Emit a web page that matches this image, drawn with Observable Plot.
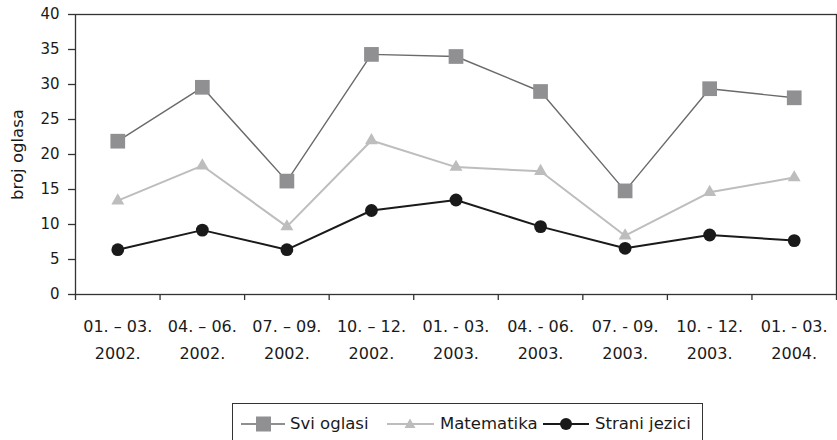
<!DOCTYPE html>
<html>
<head>
<meta charset="utf-8">
<script src="https://cdn.jsdelivr.net/npm/d3@7"></script>
<script src="https://cdn.jsdelivr.net/npm/@observablehq/plot@0.6"></script>
<style>
  body { margin: 0; background: #fff; font-family: "DejaVu Sans", sans-serif; }
  #chart { position: relative; width: 837px; height: 440px; }
  #legend { position: absolute; left: 232px; top: 403px; width: 471px; height: 40px;
    border: 1px solid #333; box-sizing: border-box; font-size: 16.5px; color: #1a1a1a; }
  #legend svg { position: absolute; left: 0; top: 0; }
  #legend span { position: absolute; top: 10px; white-space: nowrap; }
</style>
</head>
<body>
<div id="chart"></div>
<script>
const periods = ["01. – 03.", "04. – 06.", "07. – 09.", "10. – 12.", "01. - 03.", "04. - 06.", "07. - 09.", "10. - 12.", "01. - 03."];
const years = ["2002.", "2002.", "2002.", "2002.", "2003.", "2003.", "2003.", "2003.", "2004."];
const sviOglasi = [21.9, 29.6, 16.2, 34.3, 34.0, 29.0, 14.8, 29.4, 28.1];
const matematika = [13.4, 18.4, 9.7, 22.0, 18.2, 17.6, 8.4, 14.6, 16.7];
const straniJezici = [6.4, 9.2, 6.4, 12.0, 13.5, 9.7, 6.6, 8.5, 7.7];
const yTicks = [0, 5, 10, 15, 20, 25, 30, 35, 40];
const yLabel = "broj oglasa";
const seriesNames = ["Svi oglasi", "Matematika", "Strani jezici"];

const pos = periods.map((p, i) => i + 0.5);
const rows = (vals) => vals.map((v, i) => ({x: pos[i], y: v}));
const svi = rows(sviOglasi), mat = rows(matematika), str = rows(straniJezici);
const labels = periods.map((p, i) => ({x: pos[i], p, yr: years[i]}));

const plot = Plot.plot({
  width: 837,
  height: 395,
  marginLeft: 75,
  marginRight: 1,
  marginTop: 14,
  marginBottom: 101,
  style: {fontFamily: "DejaVu Sans, sans-serif", fontSize: "15px", color: "#1a1a1a", background: "#fff"},
  x: {domain: [0, periods.length]},
  y: {domain: [0, 40]},
  marks: [
    Plot.frame({stroke: "#333", strokeWidth: 1.3}),
    Plot.axisY({ticks: yTicks, tickSize: 7, tickPadding: 9, stroke: "#333", strokeWidth: 1.3,
      label: null, fontSize: 15}),
    Plot.text([yLabel], {text: d => d, frameAnchor: "left", textAnchor: "middle", rotate: -90, dx: -58, fontSize: 16.5, fill: "#1a1a1a"}),
    Plot.axisX({ticks: d3.range(0, periods.length + 1), tickSize: 6, tickFormat: () => "", stroke: "#333", strokeWidth: 1.3, label: null}),
    Plot.text(labels, {x: "x", text: "p", frameAnchor: "bottom", dy: 37, fontSize: 16, fill: "#1a1a1a"}),
    Plot.text(labels, {x: "x", text: "yr", frameAnchor: "bottom", dy: 64, fontSize: 16, fill: "#1a1a1a"}),
    Plot.line(svi, {x: "x", y: "y", stroke: "#6a6a6a", strokeWidth: 1.4}),
    Plot.line(mat, {x: "x", y: "y", stroke: "#bdbdbd", strokeWidth: 2}),
    Plot.line(str, {x: "x", y: "y", stroke: "#1a1a1a", strokeWidth: 2}),
    Plot.dot(svi, {x: "x", y: "y", symbol: "square", r: 8.3, fill: "#909093", stroke: "none"}),
    Plot.dot(mat, {x: "x", y: "y", symbol: "triangle", r: 4.8, fill: "#bdbdbd", stroke: "none"}),
    Plot.dot(str, {x: "x", y: "y", symbol: "circle", r: 6.4, fill: "#1a1a1a", stroke: "none"})
  ]
});
const chart = document.getElementById("chart");
chart.appendChild(plot);

// Legend
const legend = document.createElement("div");
legend.id = "legend";
legend.innerHTML = `
<svg width="471" height="40">
  <line x1="8" x2="52" y1="20" y2="20" stroke="#6a6a6a" stroke-width="1.4"/>
  <rect x="23" y="12.5" width="15" height="15" fill="#909093"/>
  <line x1="154" x2="201" y1="20" y2="20" stroke="#bdbdbd" stroke-width="2"/>
  <path d="M177,14.5 L182.5,24 L171.5,24 Z" fill="#bdbdbd"/>
  <line x1="310" x2="356" y1="20" y2="20" stroke="#1a1a1a" stroke-width="2"/>
  <circle cx="333" cy="20" r="6" fill="#1a1a1a"/>
</svg>
<span style="left:57px">${seriesNames[0]}</span>
<span style="left:207px">${seriesNames[1]}</span>
<span style="left:362px">${seriesNames[2]}</span>`;
chart.appendChild(legend);
</script>
</body>
</html>
